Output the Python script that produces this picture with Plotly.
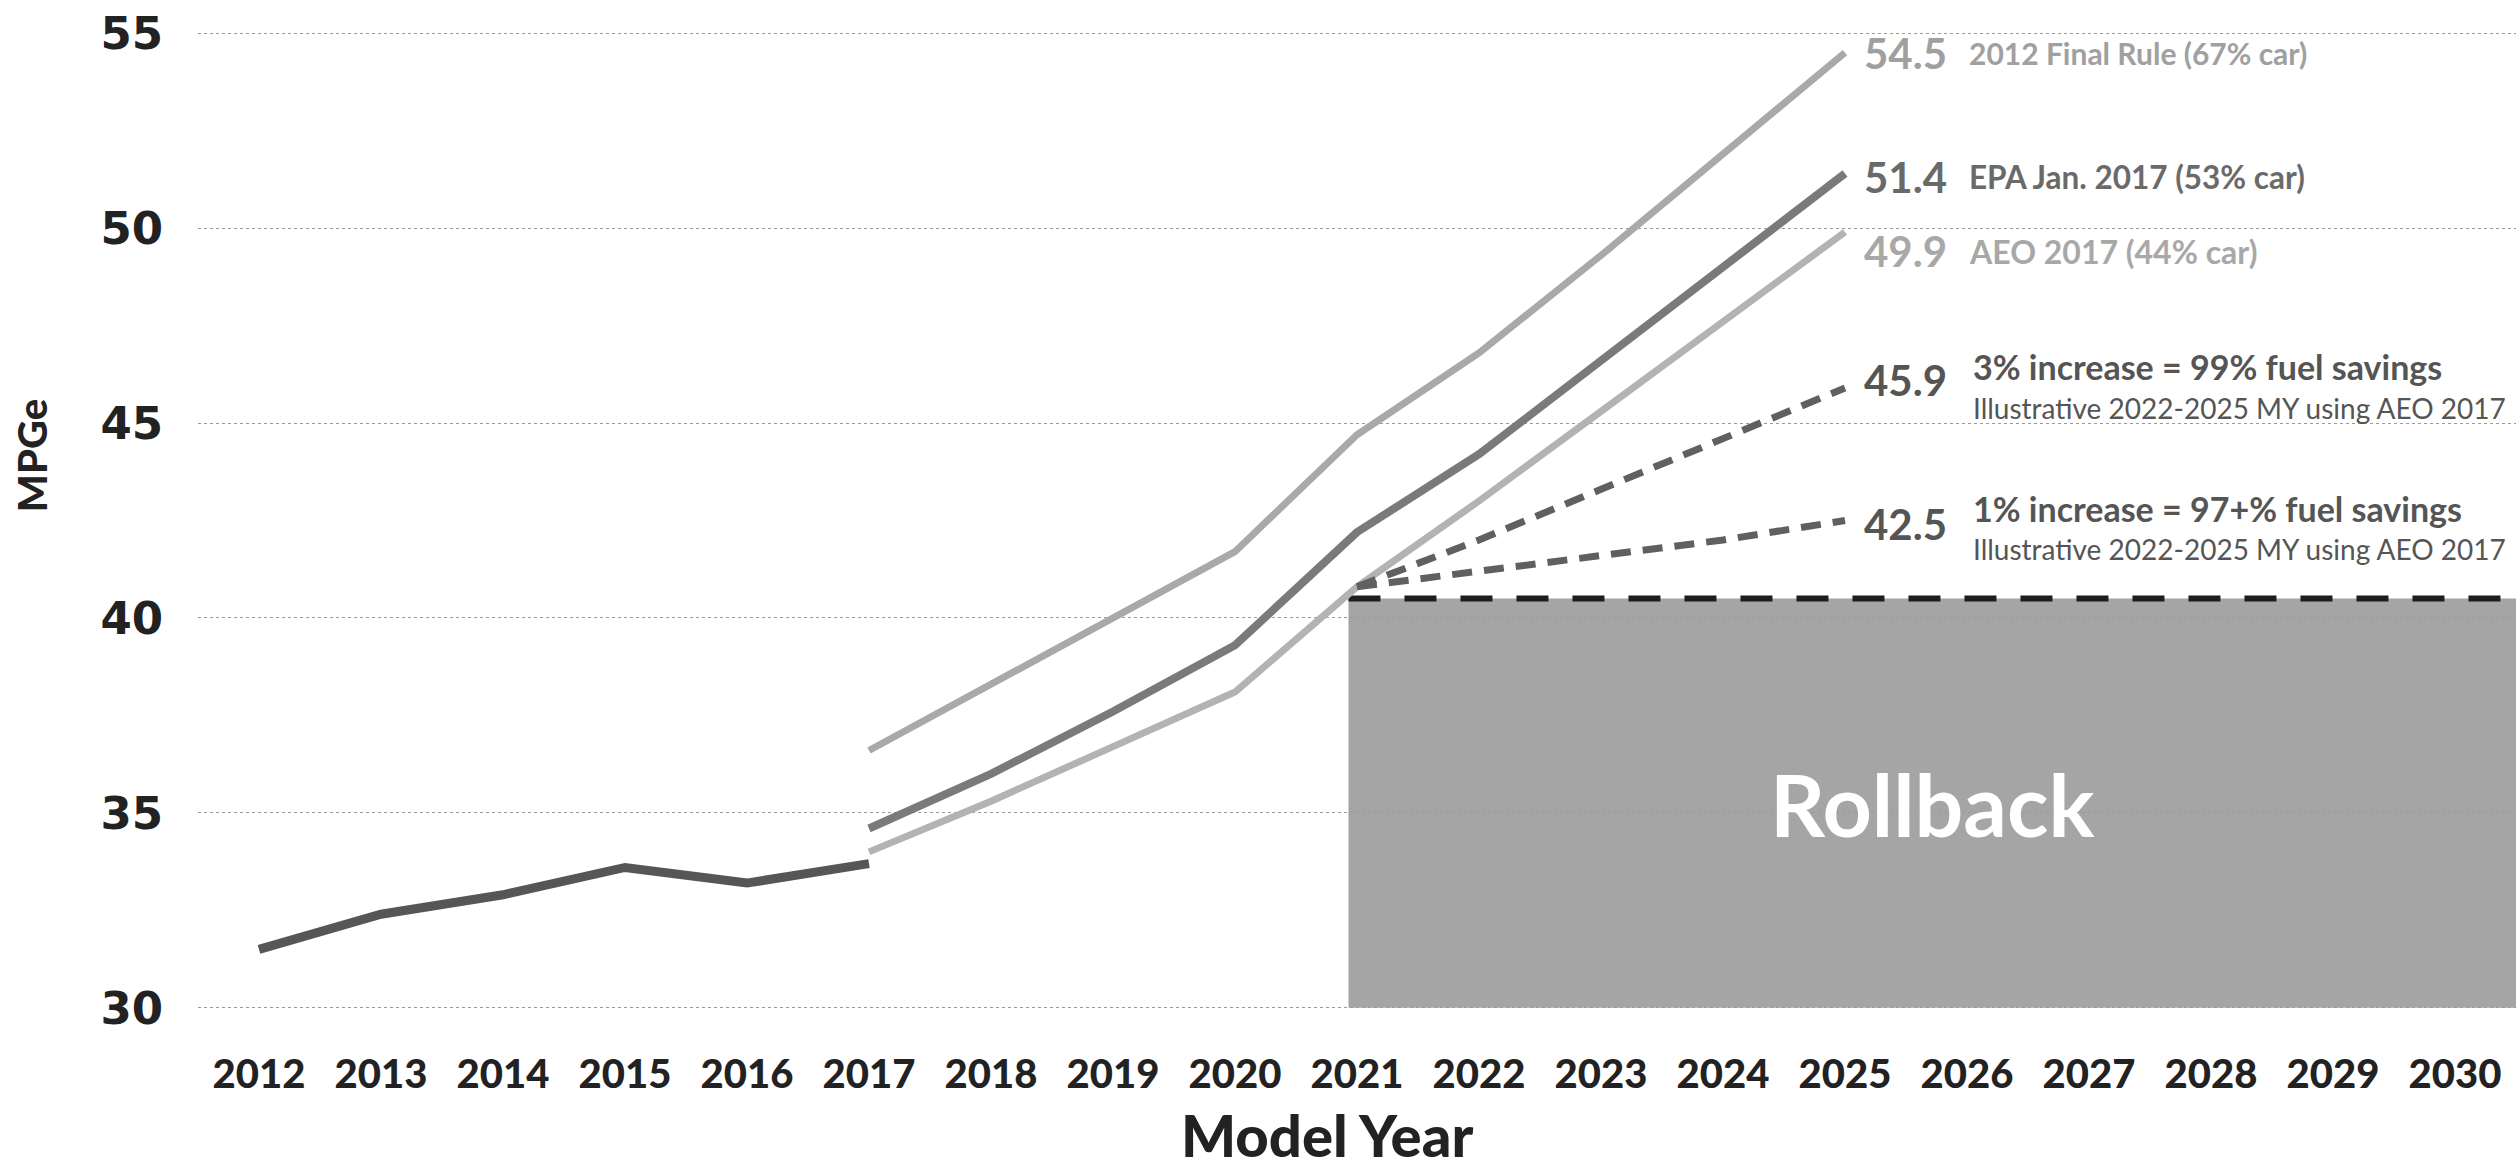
import plotly.graph_objects as go

# ---- data -------------------------------------------------------------
years = list(range(2012, 2031))

hist_years = [2012, 2013, 2014, 2015, 2016, 2017]
hist_mpge = [31.5, 32.4, 32.9, 33.6, 33.2, 33.7]

proj_years = [2017, 2018, 2019, 2020, 2021, 2022, 2023, 2024, 2025]
final_rule_2012 = [36.6, 38.3, 40.0, 41.7, 44.7, 46.8, 49.3, 51.9, 54.5]
epa_jan_2017 = [34.6, 36.0, 37.6, 39.3, 42.2, 44.2, 46.6, 49.0, 51.4]
aeo_2017 = [34.0, 35.3, 36.7, 38.1, 40.8, 43.0, 45.3, 47.6, 49.9]

illus_years = [2021, 2022, 2023, 2024, 2025]
increase_3pct = [40.8, 42.0, 43.3, 44.6, 45.9]
increase_1pct = [40.8, 41.2, 41.6, 42.0, 42.5]

rollback_start = 2020.93
rollback_level = 40.5
y_min, y_max = 30, 55
y_ticks = [30, 35, 40, 45, 50, 55]

# ---- styling ----------------------------------------------------------
SANS = "Lato, 'Open Sans', sans-serif"
NUM = "'DejaVu Sans', Verdana, sans-serif"
LIGHT = "#a9a9a9"
MID = "#7a7a7a"
DARK = "#565656"

fig = go.Figure()

# rollback region and its ceiling
fig.add_shape(type="rect", xref="x", yref="y",
              x0=rollback_start, x1=years[-1] + 0.5, y0=y_min, y1=rollback_level,
              fillcolor="#a5a5a5", line_width=0, layer="below")
fig.add_trace(go.Scatter(x=[rollback_start, years[-1] + 0.5],
                         y=[rollback_level, rollback_level], mode="lines",
                         line=dict(color="#1e1e1e", width=6, dash="32px,24px"),
                         hoverinfo="skip"))

fig.add_trace(go.Scatter(x=hist_years, y=hist_mpge, mode="lines",
                         line=dict(color=DARK, width=9), name="Historical"))
fig.add_trace(go.Scatter(x=proj_years, y=final_rule_2012, mode="lines",
                         line=dict(color=LIGHT, width=7), name="2012 Final Rule"))
fig.add_trace(go.Scatter(x=proj_years, y=aeo_2017, mode="lines",
                         line=dict(color="#b3b3b3", width=7), name="AEO 2017"))
fig.add_trace(go.Scatter(x=proj_years, y=epa_jan_2017, mode="lines",
                         line=dict(color=MID, width=8), name="EPA Jan. 2017"))
fig.add_trace(go.Scatter(x=illus_years, y=increase_3pct, mode="lines",
                         line=dict(color="#606060", width=7, dash="20px,12px"),
                         name="3% increase"))
fig.add_trace(go.Scatter(x=illus_years, y=increase_1pct, mode="lines",
                         line=dict(color="#606060", width=7, dash="20px,12px"),
                         name="1% increase"))

# ---- end-of-line labels -------------------------------------------------
end_year = proj_years[-1]


def label(y, text, size, color, xshift, yshift, bold=True):
    fig.add_annotation(x=end_year, y=y, xref="x", yref="y", text=text,
                       showarrow=False, xanchor="left", yanchor="middle",
                       xshift=xshift, yshift=yshift,
                       font=dict(family=SANS, size=size, color=color,
                                 weight="bold" if bold else "normal"))


label(final_rule_2012[-1], f"{final_rule_2012[-1]}", 42, "#a0a0a0", 17, 0)
label(final_rule_2012[-1], "2012 Final Rule (67% car)", 30, "#a0a0a0", 122, 0)
label(epa_jan_2017[-1], f"{epa_jan_2017[-1]}", 42, "#6a6a6a", 17, -3)
label(epa_jan_2017[-1], "EPA Jan. 2017 (53% car)", 31.5, "#6a6a6a", 122, -3)
label(aeo_2017[-1], f"{aeo_2017[-1]}", 42, "#a8a8a8", 17, -19)
label(aeo_2017[-1], "AEO 2017 (44% car)", 32, "#a8a8a8", 122, -19)

label(increase_3pct[-1], f"{increase_3pct[-1]}", 42, "#555555", 17, 8)
label(increase_3pct[-1], "3% increase = 99% fuel savings", 34, "#555555", 126, 21)
label(increase_3pct[-1], "Illustrative 2022-2025 MY using AEO 2017", 28,
      "#555555", 126, -20, bold=False)
label(increase_1pct[-1], f"{increase_1pct[-1]}", 42, "#555555", 17, -3)
label(increase_1pct[-1], "1% increase = 97+% fuel savings", 34, "#555555", 126, 12)
label(increase_1pct[-1], "Illustrative 2022-2025 MY using AEO 2017", 28,
      "#555555", 126, -28, bold=False)

fig.add_annotation(x=(rollback_start + years[-1] + 0.5) / 2,
                   y=(y_min + rollback_level) / 2, xref="x", yref="y",
                   text="Rollback", showarrow=False,
                   font=dict(family=SANS, size=86, color="white", weight="bold"))

# axis titles
fig.add_annotation(x=2020.75, y=0, xref="x", yref="paper",
                   text="Model Year", showarrow=False, yanchor="middle",
                   yshift=-125,
                   font=dict(family=SANS, size=58, color="#222222", weight=900))
fig.add_annotation(x=0, y=44.15, xref="paper", yref="y", text="MPGe",
                   showarrow=False, textangle=-90, xanchor="center",
                   xshift=-166,
                   font=dict(family=SANS, size=40, color="#222222", weight=900))

fig.update_layout(
    width=2519, height=1170,
    margin=dict(l=198, r=3, t=32, b=161),
    paper_bgcolor="white", plot_bgcolor="white",
    showlegend=False,
    xaxis=dict(range=[years[0] - 0.5, years[-1] + 0.5], tickvals=years,
               ticktext=[str(y) for y in years], showgrid=False,
               zeroline=False, showline=False, ticks="",
               ticklabelstandoff=38,
               tickfont=dict(family=SANS, size=40, color="#222222", weight=900)),
    yaxis=dict(range=[y_min - 0.03, y_max + 0.03], tickvals=y_ticks,
               showgrid=True, gridcolor="#9a9a9a", gridwidth=1, griddash="dot",
               zeroline=False, showline=False, ticks="",
               ticklabelstandoff=34,
               tickfont=dict(family=NUM, size=45, color="#222222", weight="bold")),
)

fig.write_html("out.html")
